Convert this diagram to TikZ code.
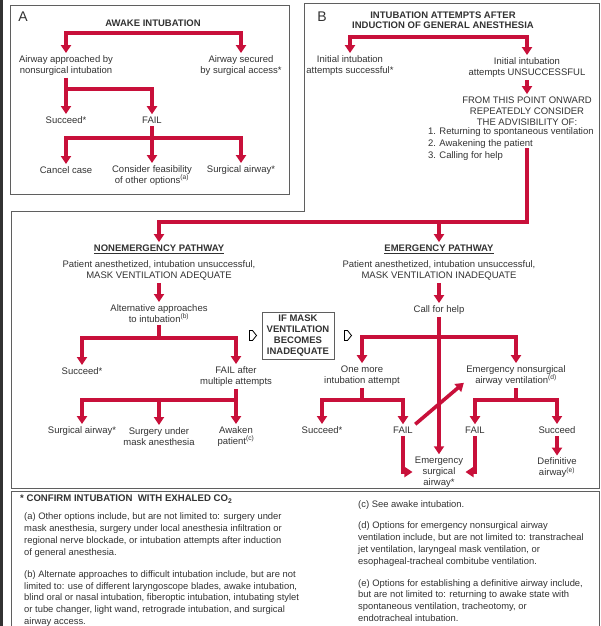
\documentclass[tikz,border=0pt]{standalone}
\usepackage{fontspec}
\setmainfont{Liberation Sans}
\usetikzlibrary{arrows.meta}
\definecolor{airRed}{RGB}{200,16,58}
\definecolor{inkGray}{RGB}{50,50,50}
\definecolor{boxGray}{RGB}{95,95,95}

\begin{document}
\begin{tikzpicture}
[x=1pt,y=-1pt,
  textDecorate/.style={align=center,inner sep=1pt,outer sep=1.5pt,text=inkGray,font=\fontsize{9.5}{11}\selectfont},
  titleDecorate/.style={align=center,inner sep=1pt,outer sep=1.5pt,text=inkGray,font=\fontsize{9.5}{10.5}\selectfont\bfseries},
  letterDecorate/.style={inner sep=0pt,text=inkGray,font=\fontsize{14}{14}\selectfont},
  boxDecorate/.style={draw=boxGray,line width=0.9pt},
  barDecorate/.style={draw=airRed,line width=3.6pt},
  arrowDecorate/.style={barDecorate,-{Triangle[width=10pt,length=8pt]}},
  hintDecorate/.style={draw=black,fill=white,line width=0.8pt,line join=miter},
  noteDecorate/.style={align=left,anchor=north west,inner sep=0pt,text=inkGray,font=\fontsize{9.4}{11.9}\selectfont}]
\useasboundingbox (0,0) rectangle (601,626);

%% frames
\fill[inkGray] (0,0) rectangle (3,626);
\draw[boxDecorate] (10,5) rectangle (289,194);
\draw[boxDecorate] (304,3) -- (599,3) -- (599,488) -- (11,488) -- (11,211) -- (304,211) -- cycle;
\draw[boxDecorate] (11,626) |- (599,491) -- (599,626);

%% panel letters and titles
\node[letterDecorate] (lblA) at (23,17) {A};
\node[letterDecorate] (lblB) at (322,17) {B};
\node[titleDecorate] (awake) at (153,23) {AWAKE INTUBATION};
\node[titleDecorate] (induct) at (443,20) {INTUBATION ATTEMPTS AFTER\\INDUCTION OF GENERAL ANESTHESIA};
\node[titleDecorate] (nonTitle) at (159,249) {\underline{NONEMERGENCY PATHWAY}};
\node[titleDecorate] (emTitle) at (439,249) {\underline{EMERGENCY PATHWAY}};

%% plain labels
\foreach \nodename/\x/\y/\txt in {
  aprch/66/65.5/{Airway approached by\\nonsurgical intubation},
  secured/241/65.5/{Airway secured\\by surgical access*},
  succA/66/120/{Succeed*},
  failA/152/120/{FAIL},
  cancel/66/170/{Cancel case},
  consider/152/175.5/{Consider feasibility\\of other options\textsuperscript{(a)}},
  surgA/241/170/{Surgical airway*},
  okB/350/65.5/{Initial intubation\\attempts successful*},
  failB/527/67.5/{Initial intubation\\attempts UNSUCCESSFUL},
  advise/527/111/{FROM THIS POINT ONWARD\\REPEATEDLY CONSIDER\\THE ADVISIBILITY OF:},
  nonDesc/159/270.5/{Patient anesthetized, intubation unsuccessful,\\MASK VENTILATION ADEQUATE},
  altApp/159/313.5/{Alternative approaches\\to intubation\textsuperscript{(b)}},
  succN/82/371/{Succeed*},
  failN/236/376.5/{FAIL after\\multiple attempts},
  surgN/82/431/{Surgical airway*},
  maskN/159/436.5/{Surgery under\\mask anesthesia},
  awakeN/236/436.5/{Awaken\\patient\textsuperscript{(c)}},
  emDesc/439/270.5/{Patient anesthetized, intubation unsuccessful,\\MASK VENTILATION INADEQUATE},
  callHelp/439/310/{Call for help},
  oneMore/362/375.5/{One more\\intubation attempt},
  nonSurg/516/375.5/{Emergency nonsurgical\\airway ventilation\textsuperscript{(d)}},
  succE/322/430/{Succeed*},
  failE/403/430/{FAIL},
  failF/475/430/{FAIL},
  succF/557/430/{Succeed},
  surgE/439/472/{Emergency\\surgical\\airway*},
  defin/557/468/{Definitive\\airway\textsuperscript{(e)}}}
{
  \node[textDecorate] (\nodename) at (\x,\y) {\txt};
}
\node[textDecorate,align=left,anchor=north west,outer sep=0pt,font=\fontsize{9.5}{12}\selectfont] (steps) at (427,127)
  {1. Returning to spontaneous ventilation\\2. Awakening the patient\\3. Calling for help};
\node[titleDecorate,draw=boxGray,line width=0.9pt,minimum width=72pt,minimum height=47pt,
  font=\fontsize{9.5}{11}\selectfont\bfseries] (ifMask) at (298,335.5)
  {IF MASK\\VENTILATION\\BECOMES\\INADEQUATE};

%% junctions
\coordinate (forkA1) at (153,33);
\coordinate (forkA2) at (152,89);
\coordinate (forkA3) at (152,138);
\coordinate (forkB1) at (439,37);
\coordinate (stepsEnd) at (527,148);
\coordinate (forkM) at (439,222);
\coordinate (forkN1) at (159,338);
\coordinate (forkN2) at (236,400);
\coordinate (forkE1) at (439,337);
\coordinate (forkE2) at (362,400);
\coordinate (forkE3) at (516,400);

%% panel A
\draw[arrowDecorate] (forkA1) -| (aprch.north);
\draw[arrowDecorate] (forkA1) -| (secured.north);
\draw[arrowDecorate] (aprch.south) -- (succA.north);
\draw[arrowDecorate] (aprch.south) |- (forkA2) -- (failA.north);
\draw[barDecorate] (failA.south) -- (forkA3);
\draw[arrowDecorate] (forkA3) -| (cancel.north);
\draw[arrowDecorate] (forkA3) -- (consider.north);
\draw[arrowDecorate] (forkA3) -| (surgA.north);

%% panel B
\draw[arrowDecorate] (forkB1) -| (okB.north);
\draw[arrowDecorate] (forkB1) -| (failB.north);
\draw[arrowDecorate] (failB.south) -- (advise.north);
\draw[arrowDecorate] (stepsEnd) |- (forkM) -| (nonTitle.north);
\draw[arrowDecorate] (forkM) -- (emTitle.north);

%% nonemergency pathway
\draw[arrowDecorate] (nonDesc.south) -- (altApp.north);
\draw[barDecorate] (altApp.south) -- (forkN1);
\draw[arrowDecorate] (forkN1) -| (succN.north);
\draw[arrowDecorate] (forkN1) -| (failN.north);
\draw[barDecorate] (failN.south) -- (forkN2);
\draw[arrowDecorate] (forkN2) -| (surgN.north);
\draw[arrowDecorate] (forkN2) -| (maskN.north);
\draw[arrowDecorate] (forkN2) -- (awakeN.north);

%% hint arrows round the box
\draw[hintDecorate] (ifMask.west) ++(-11,-5) -- ++(3,0) -- ++(4,5) -- ++(-4,5) -- ++(-3,0) -- cycle;
\draw[hintDecorate] (ifMask.east) ++(9,-5) -- ++(3,0) -- ++(4,5) -- ++(-4,5) -- ++(-3,0) -- cycle;

%% emergency pathway
\draw[arrowDecorate] (emDesc.south) -- (callHelp.north);
\draw[arrowDecorate] (callHelp.south) -- (surgE.north);
\draw[arrowDecorate] (forkE1) -| (oneMore.north);
\draw[arrowDecorate] (forkE1) -| (nonSurg.north);
\draw[barDecorate] (oneMore.south) -- (forkE2);
\draw[arrowDecorate] (forkE2) -| (succE.north);
\draw[arrowDecorate] (forkE2) -| (failE.north);
\draw[arrowDecorate] (failE.north east) -- (nonSurg.188);
\draw[barDecorate] (nonSurg.south) -- (forkE3);
\draw[arrowDecorate] (forkE3) -| (failF.north);
\draw[arrowDecorate] (forkE3) -| (succF.north);
\draw[arrowDecorate] (failE.south) |- (surgE.west);
\draw[arrowDecorate] (failF.south) |- (surgE.east);
\draw[arrowDecorate] (succF.south) -- (defin.north);

%% notes
\node[noteDecorate,anchor=west,font=\fontsize{9.6}{12}\selectfont\bfseries] (noteHead) at (20,499)
  {* CONFIRM INTUBATION\ \ WITH EXHALED CO\textsubscript{2}};
\node[noteDecorate] (noteLeft) at (24,512.5)
  {(a) Other options include, but are not limited to: surgery under\\
   mask anesthesia, surgery under local anesthesia infiltration or\\
   regional nerve blockade, or intubation attempts after induction\\
   of general anesthesia.\\[10pt]
   (b) Alternate approaches to difficult intubation include, but are not\\
   limited to: use of different laryngoscope blades, awake intubation,\\
   blind oral or nasal intubation, fiberoptic intubation, intubating stylet\\
   or tube changer, light wand, retrograde intubation, and surgical\\
   airway access.};
\node[noteDecorate] (noteRight) at (358,500.5)
  {(c) See awake intubation.\\[9pt]
   (d) Options for emergency nonsurgical airway\\
   ventilation include, but are not limited to: transtracheal\\
   jet ventilation, laryngeal mask ventilation, or\\
   esophageal-tracheal combitube ventilation.\\[10pt]
   (e) Options for establishing a definitive airway include,\\
   but are not limited to: returning to awake state with\\
   spontaneous ventilation, tracheotomy, or\\
   endotracheal intubation.};
\end{tikzpicture}
\end{document}
